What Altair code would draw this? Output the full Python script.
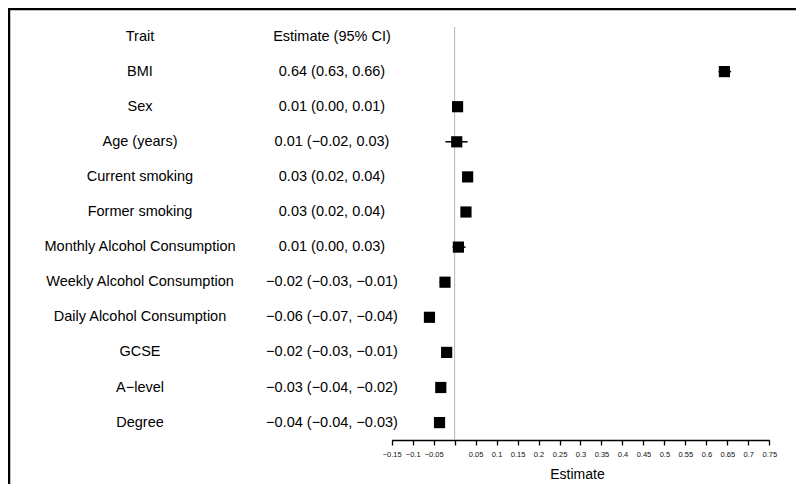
import altair as alt
import pandas as pd

# ---- data ----
traits = [
    "BMI", "Sex", "Age (years)", "Current smoking", "Former smoking",
    "Monthly Alcohol Consumption", "Weekly Alcohol Consumption",
    "Daily Alcohol Consumption", "GCSE", "A\u2212level", "Degree",
]
ci_labels = [
    "0.64 (0.63, 0.66)",
    "0.01 (0.00, 0.01)",
    "0.01 (\u22120.02, 0.03)",
    "0.03 (0.02, 0.04)",
    "0.03 (0.02, 0.04)",
    "0.01 (0.00, 0.03)",
    "\u22120.02 (\u22120.03, \u22120.01)",
    "\u22120.06 (\u22120.07, \u22120.04)",
    "\u22120.02 (\u22120.03, \u22120.01)",
    "\u22120.03 (\u22120.04, \u22120.02)",
    "\u22120.04 (\u22120.04, \u22120.03)",
]
estimates = [0.643, 0.007, 0.005, 0.031, 0.027, 0.009, -0.023, -0.060, -0.019, -0.033, -0.036]
lower = [0.629, 0.001, -0.022, 0.022, 0.019, -0.005, -0.036, -0.073, -0.027, -0.040, -0.042]
upper = [0.659, 0.012, 0.031, 0.040, 0.036, 0.026, -0.011, -0.047, -0.012, -0.025, -0.031]
header = ["Trait", "Estimate (95% CI)"]
x_ticks = [-0.15, -0.1, -0.05, 0, 0.05, 0.1, 0.15, 0.2, 0.25, 0.3, 0.35,
           0.4, 0.45, 0.5, 0.55, 0.6, 0.65, 0.7, 0.75]

rows = list(range(1, len(traits) + 1))
df = pd.DataFrame({"row": rows, "trait": traits, "ci": ci_labels,
                   "estimate": estimates, "lower": lower, "upper": upper})
text_df = pd.DataFrame({"row": [0] + rows,
                        "trait": [header[0]] + traits,
                        "ci": [header[1]] + ci_labels})
zero_df = pd.DataFrame({"zero": [0.0]})

FONT = "Liberation Sans"
xscale = alt.Scale(domain=[x_ticks[0], x_ticks[-1]], range=[383.7, 761.3], nice=False, zero=False)
xaxis = alt.Axis(
    values=x_ticks, title="Estimate", grid=False,
    labelExpr="datum.value == 0 ? '' : replace(format(datum.value, '.2~f'), '-', '\u2212')",
    labelOverlap=False, labelFlush=False, labelBound=False,
    labelFontSize=7.5, labelFont=FONT, labelColor="#111111", labelPadding=5,
    domainColor="black", domainWidth=1.3, tickColor="black", tickWidth=1.3, tickSize=5,
    titleFont=FONT, titleFontSize=14, titleFontWeight="normal", titleColor="black",
    titlePadding=10, titleX=569,
)


def xenc(field):
    return alt.X(f"{field}:Q", scale=xscale, axis=xaxis)


yenc = alt.Y("row:Q", scale=alt.Scale(domain=[0, 11], range=[28.5, 414.6], nice=False, zero=False), axis=None)

border_top = alt.Chart(zero_df).mark_rule(color="black", strokeWidth=2.5).encode(
    x=alt.value(0), x2=alt.value(788), y=alt.value(1))
border_left = alt.Chart(zero_df).mark_rule(color="black", strokeWidth=2.5).encode(
    x=alt.value(1), y=alt.value(0), y2=alt.value(476))

zero_line = alt.Chart(zero_df).mark_rule(color="#b5b5b5", strokeWidth=1).encode(
    x=xenc("zero"), y=alt.value(19), y2=alt.value(432))

ci = alt.Chart(df).mark_rule(color="black", strokeWidth=1.5).encode(
    x=xenc("lower"), x2="upper:Q", y=yenc)

boxes = alt.Chart(df).mark_square(size=125, color="black", opacity=1, filled=True).encode(
    x=xenc("estimate"), y=yenc)

trait_text = alt.Chart(text_df).mark_text(
    align="center", baseline="middle", font=FONT, fontSize=14.5, color="black").encode(
    x=alt.value(132), y=yenc, text="trait:N")

ci_text = alt.Chart(text_df).mark_text(
    align="center", baseline="middle", font=FONT, fontSize=14.5, color="black").encode(
    x=alt.value(324), y=yenc, text="ci:N")

chart = alt.layer(border_top, border_left, zero_line, ci, boxes, trait_text, ci_text).properties(
    width=788, height=432,
    autosize=alt.AutoSizeParams(type="none"),
    padding={"left": 0, "top": 0, "right": 0, "bottom": 44},
    background="white",
).configure_view(stroke=None)

chart.save("out.html", embed_options={"renderer": "svg", "actions": False})
